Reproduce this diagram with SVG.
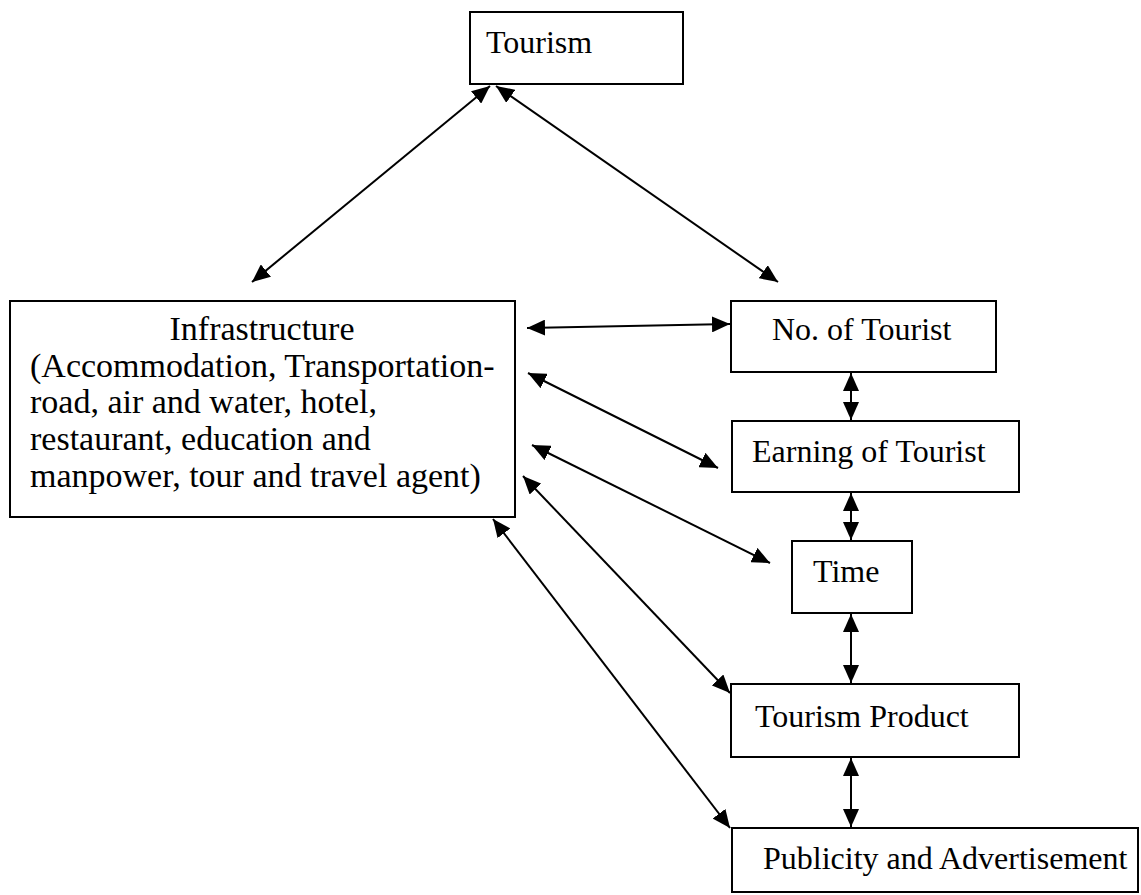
<svg xmlns="http://www.w3.org/2000/svg" width="1141" height="895" viewBox="0 0 1141 895">
<style>
.box{fill:#fff;stroke:#000;stroke-width:2}
.t{font-family:"Liberation Serif","Times New Roman",serif;font-size:32px;fill:#000}
.ti{font-family:"Liberation Serif","Times New Roman",serif;font-size:34px;fill:#000}
.c{stroke:#000;stroke-width:2;fill:none;marker-start:url(#ah);marker-end:url(#ah)}
</style>
<defs>
<marker id="ah" viewBox="0 0 18 16" refX="18" refY="8" markerWidth="18" markerHeight="16" markerUnits="userSpaceOnUse" orient="auto-start-reverse">
<path d="M0,0 L18,8 L0,16 z" fill="#000"/>
</marker>
</defs>
<rect width="1141" height="895" fill="#fff"/>
<g id="connectors">
<line class="c" x1="490" y1="86" x2="252" y2="282"/>
<line class="c" x1="496" y1="86" x2="778" y2="282"/>
<line class="c" x1="527" y1="328" x2="730" y2="324"/>
<line class="c" x1="528" y1="373" x2="718" y2="468"/>
<line class="c" x1="532" y1="445" x2="770" y2="563"/>
<line class="c" x1="523" y1="476" x2="730" y2="693"/>
<line class="c" x1="493" y1="519" x2="730" y2="828"/>
<line class="c" x1="851" y1="373" x2="851" y2="420"/>
<line class="c" x1="851" y1="493" x2="851" y2="540"/>
<line class="c" x1="851" y1="614" x2="851" y2="683"/>
<line class="c" x1="851" y1="758" x2="851" y2="827"/>
</g>
<g id="tourism">
<rect class="box" x="470" y="12" width="213" height="72"/>
<text class="t" x="486" y="53">Tourism</text>
</g>
<g id="infrastructure">
<rect class="box" x="10" y="301" width="505" height="216"/>
<text class="ti" x="262" y="340" text-anchor="middle">Infrastructure</text>
<text class="ti" x="30" y="377">(Accommodation, Transportation-</text>
<text class="ti" x="30" y="413">road, air and water, hotel,</text>
<text class="ti" x="30" y="450">restaurant, education and</text>
<text class="ti" x="30" y="487">manpower, tour and travel agent)</text>
</g>
<g id="no-of-tourist">
<rect class="box" x="731" y="301" width="265" height="71"/>
<text class="t" x="772" y="340">No. of Tourist</text>
</g>
<g id="earning">
<rect class="box" x="732" y="421" width="287" height="71"/>
<text class="t" x="752" y="462">Earning of Tourist</text>
</g>
<g id="time">
<rect class="box" x="792" y="541" width="120" height="72"/>
<text class="t" x="813" y="582">Time</text>
</g>
<g id="tourism-product">
<rect class="box" x="731" y="684" width="288" height="73"/>
<text class="t" x="755" y="727">Tourism Product</text>
</g>
<g id="publicity">
<rect class="box" x="732" y="828" width="406" height="64"/>
<text class="t" x="763" y="869">Publicity and Advertisement</text>
</g>
</svg>
